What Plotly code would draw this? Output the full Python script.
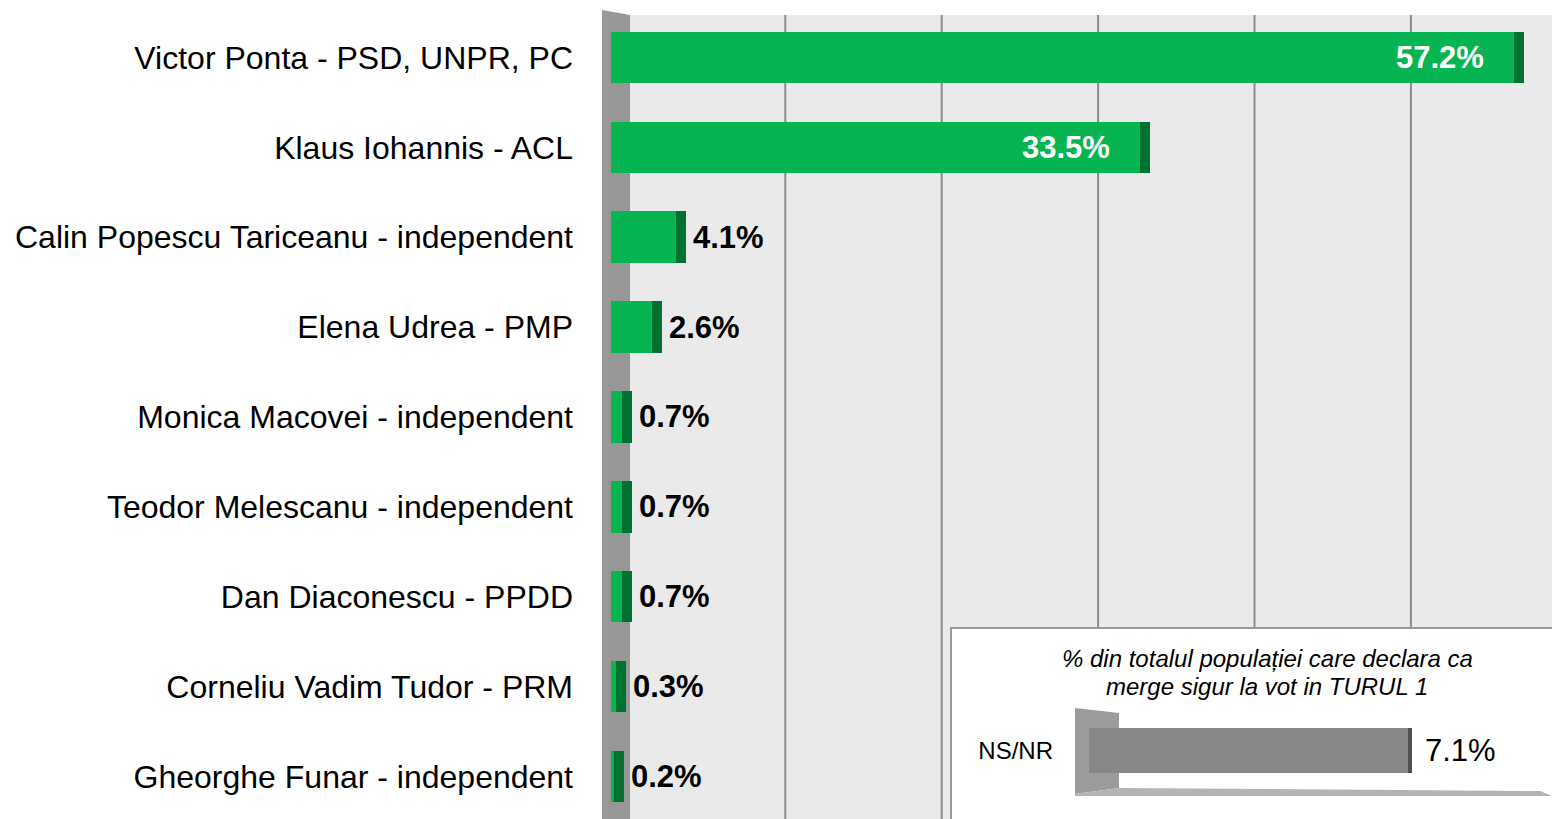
import plotly.graph_objects as go

# ---------------- data ----------------
candidates = [
    "Victor Ponta - PSD, UNPR, PC",
    "Klaus Iohannis - ACL",
    "Calin Popescu Tariceanu - independent",
    "Elena Udrea - PMP",
    "Monica Macovei - independent",
    "Teodor Melescanu - independent",
    "Dan Diaconescu - PPDD",
    "Corneliu Vadim Tudor - PRM",
    "Gheorghe Funar - independent",
]
values = [57.2, 33.5, 4.1, 2.6, 0.7, 0.7, 0.7, 0.3, 0.2]

inset_categories = ["NS/NR"]
inset_values = [7.1]
inset_title_lines = ["% din totalul populației care declara ca",
                     "merge sigur la vot in TURUL 1"]

grid_ticks = [10, 20, 30, 40, 50]

# ---------------- style ----------------
OFF = 0                       # page body margin removed via post_script
SW, SH = 1552, 819            # screen size
W, H = SW - OFF, SH - OFF     # figure size
# plot area in screen pixels: x 602..1552, y 15..819
L, T = 602 - OFF, 15 - OFF
R, B = 0, 0
PW, PH = W - L - R, H - T - B

GREEN = "#06B552"
GREEN_DARK = "#00722F"
GREY_BAR = "#878787"
GREY_BAR_DARK = "#505050"
DEPTH = 0.65          # 3D side depth of main bars (in %)
INSET_DEPTH = 0.075
FONT = "Arial, 'Liberation Sans', sans-serif"


def px(x):
    """screen x pixel -> paper fraction"""
    return (x - OFF - L) / PW


def py(y):
    """screen y pixel -> paper fraction"""
    return 1 - (y - OFF - T) / PH


fig = go.Figure()

# main bars (front face + darker side face)
fig.add_trace(go.Bar(
    x=values, y=candidates, orientation="h", width=0.573,
    marker=dict(color=GREEN, line=dict(width=0)),
    hoverinfo="x+y", showlegend=False))
fig.add_trace(go.Bar(
    x=[DEPTH] * len(values), base=values, y=candidates, orientation="h",
    width=0.573, marker=dict(color=GREEN_DARK, line=dict(width=0)),
    hoverinfo="skip", showlegend=False))

# inset bar
fig.add_trace(go.Bar(
    x=inset_values, y=inset_categories, orientation="h", width=0.456,
    marker=dict(color=GREY_BAR, line=dict(width=0)),
    xaxis="x3", yaxis="y3", showlegend=False))
fig.add_trace(go.Bar(
    x=[INSET_DEPTH] * len(inset_values), base=inset_values,
    y=inset_categories, orientation="h", width=0.456,
    marker=dict(color=GREY_BAR_DARK, line=dict(width=0)),
    xaxis="x3", yaxis="y3", hoverinfo="skip", showlegend=False))

# value labels
annotations = []
for c, v in zip(candidates, values):
    txt = f"{v:.1f}%"
    if v > 20:
        annotations.append(dict(
            x=v, y=c, xref="x", yref="y", text=txt, showarrow=False,
            xanchor="right", xshift=-28,
            font=dict(family=FONT, size=31, color="white", weight="bold")))
    else:
        annotations.append(dict(
            x=v + DEPTH, y=c, xref="x", yref="y", text=txt, showarrow=False,
            xanchor="left", xshift=5,
            font=dict(family=FONT, size=31, color="black", weight="bold")))

for c, v in zip(inset_categories, inset_values):
    annotations.append(dict(
        x=v + INSET_DEPTH, y=c, xref="x3", yref="y3", text=f"{v:.1f}%",
        showarrow=False, xanchor="left", xshift=11,
        font=dict(family=FONT, size=31, color="black")))

for line, yy in zip(inset_title_lines, [658, 686]):
    annotations.append(dict(
        x=px(1267), y=py(yy), xref="paper", yref="paper",
        text=f"<i>{line}</i>", showarrow=False,
        xanchor="center", yanchor="middle",
        font=dict(family=FONT, size=24, color="black")))

# decorative walls / grid / inset box
shapes = [
    # back wall
    dict(type="rect", xref="paper", yref="paper", x0=px(630), x1=1.01,
         y0=-0.01, y1=py(15), fillcolor="#EAEAEA", line=dict(width=0),
         layer="below"),
    # left wall
    dict(type="path", xref="paper", yref="paper",
         path=f"M {px(602)},{py(10)} L {px(630)},{py(15)} L {px(630)},{py(825)} "
              f"L {px(602)},{py(825)} Z",
         fillcolor="#979797", line=dict(width=0), layer="below"),
]
for t in grid_ticks:
    shapes.append(dict(type="line", xref="x2", yref="paper", x0=t, x1=t,
                       y0=0, y1=py(15), line=dict(color="#8C8C8C", width=2),
                       layer="below"))
shapes += [
    # inset box
    dict(type="rect", xref="paper", yref="paper", x0=px(951), x1=px(1570),
         y0=py(840), y1=py(628), fillcolor="white",
         line=dict(color="#9A9A9A", width=2), layer="below"),
    # inset left wall
    dict(type="path", xref="paper", yref="paper",
         path=f"M {px(1075)},{py(708)} L {px(1119)},{py(713)} L {px(1119)},{py(788)} "
              f"L {px(1075)},{py(794)} Z",
         fillcolor="#9B9B9B", line=dict(width=0), layer="below"),
    # inset floor
    dict(type="path", xref="paper", yref="paper",
         path=f"M {px(1075)},{py(794)} L {px(1119)},{py(788)} L {px(1540)},{py(791)} "
              f"L {px(1552)},{py(796)} L {px(1075)},{py(796)} Z",
         fillcolor="#B4B4B4", line=dict(width=0), layer="below"),
]

fig.update_layout(
    width=W, height=H,
    margin=dict(l=L, r=R, t=T, b=B, pad=0),
    paper_bgcolor="white", plot_bgcolor="rgba(0,0,0,0)",
    barmode="overlay", bargap=0,
    font=dict(family=FONT, color="black"),
    showlegend=False,
    xaxis=dict(range=[-(611 - 602) / 15.79, (SW - 611) / 15.79], visible=False,
               showgrid=False, zeroline=False, fixedrange=True),
    xaxis2=dict(range=[-(628.9 - 602) / 15.64, (SW - 628.9) / 15.64],
                overlaying="x", visible=False, showgrid=False,
                zeroline=False, anchor="y"),
    yaxis=dict(type="category", categoryorder="array",
               categoryarray=candidates, range=[8.475, -0.473],
               showgrid=False, zeroline=False, showline=False, ticks="",
               ticklabelstandoff=28,
               tickfont=dict(family=FONT, size=32, color="black")),
    xaxis3=dict(domain=[px(1075), 1.0],
                range=[-(1089.3 - 1075) / 44.93, (SW - 1089.3) / 44.93],
                anchor="y3", visible=False, showgrid=False, zeroline=False),
    yaxis3=dict(domain=[py(800), py(700)], type="category",
                range=[-0.495, 0.505], anchor="x3",
                showgrid=False, zeroline=False, showline=False, ticks="",
                ticklabelstandoff=21,
                tickfont=dict(family=FONT, size=24, color="black")),
    shapes=shapes,
    annotations=annotations,
)

fig.write_html(
    "out.html",
    config={"displayModeBar": False},
    post_script=("document.body.style.margin='0';"
                 "document.body.style.overflow='hidden';"
                 "document.documentElement.style.overflow='hidden';"),
)
